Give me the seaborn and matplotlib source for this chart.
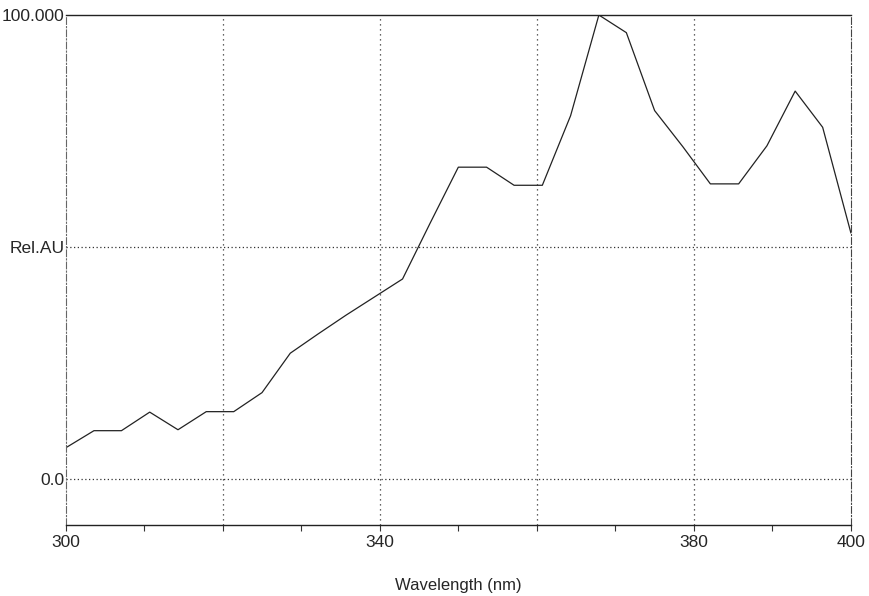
import matplotlib
matplotlib.use("Agg")
import matplotlib.pyplot as plt
import seaborn as sns
import pandas as pd

# Data
wavelength = [300.0, 303.6, 307.1, 310.7, 314.3, 317.9, 321.4, 325.0, 328.6, 332.1,
              335.7, 339.3, 342.9, 346.4, 350.0, 353.6, 357.1, 360.7, 364.3, 367.9,
              371.4, 375.0, 378.6, 382.1, 385.7, 389.3, 392.9, 396.4, 400.0]
rel_au = [6.7, 10.4, 10.4, 14.4, 10.6, 14.5, 14.5, 18.6, 27.1, 31.2,
          35.3, 39.2, 43.1, 55.1, 67.2, 67.2, 63.3, 63.3, 78.3, 100.0,
          96.2, 79.4, 71.6, 63.6, 63.6, 71.8, 83.6, 75.8, 53.0]

x_ticks = [300, 310, 320, 330, 340, 350, 360, 370, 380, 390, 400]
x_tick_labels = ["300", "", "", "", "340", "", "", "", "380", "", "400"]
x_grid = [320, 340, 360, 380]
y_ticks = [0, 50, 100]
y_tick_labels = ["0.0", "Rel.AU", "100.000"]
x_label = "Wavelength (nm)"

df = pd.DataFrame({"wavelength": wavelength, "rel_au": rel_au})

sns.set_style("white")
plt.rcParams["font.family"] = ["Liberation Sans", "DejaVu Sans"]

fig = plt.figure(figsize=(8.69, 5.96), dpi=100)
ax = fig.add_axes([0.0756, 0.1186, 0.9036, 0.8562])

sns.lineplot(data=df, x="wavelength", y="rel_au", ax=ax, color="#222222",
             linewidth=0.9)

ax.set_xlim(300, 400)
ax.set_ylim(-10, 100)

for gx in x_grid:
    ax.axvline(gx, color="#333333", linestyle=(0, (1, 3)), linewidth=0.9, zorder=0)
for gy in [0, 50]:
    ax.axhline(gy, color="#333333", linestyle=(0, (1, 2)), linewidth=0.9, zorder=0)

ax.set_xticks(x_ticks)
ax.set_xticklabels(x_tick_labels, fontsize=12.5)
ax.set_yticks(y_ticks)
ax.set_yticklabels(y_tick_labels, fontsize=12.5)
ax.tick_params(axis="x", length=4, width=0.8, color="#333333", pad=3, direction="out",
               bottom=True)
ax.tick_params(axis="y", length=0, pad=1)

ax.set_xlabel(x_label, fontsize=12, labelpad=20)
ax.set_ylabel("")

for side in ["top", "bottom"]:
    ax.spines[side].set_visible(True)
    ax.spines[side].set_color("#222222")
    ax.spines[side].set_linewidth(1.0)
ax.spines["left"].set_color("#666666")
ax.spines["left"].set_linewidth(0.8)
ax.spines["left"].set_linestyle((0, (6, 2, 1, 2)))
ax.spines["right"].set_color("#444444")
ax.spines["right"].set_linewidth(0.8)
ax.spines["right"].set_linestyle((0, (6, 2, 1, 2)))

fig.savefig("out.png", dpi=100)
